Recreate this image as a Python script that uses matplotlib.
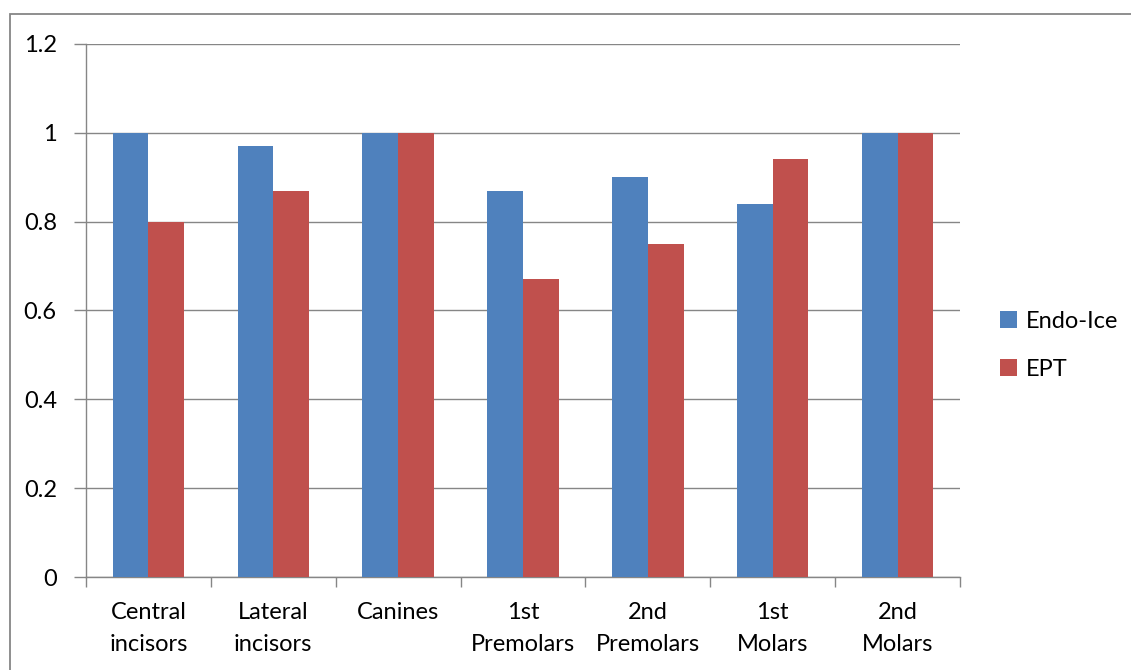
import matplotlib
matplotlib.use('Agg')
import matplotlib.pyplot as plt
from matplotlib.patches import Rectangle
import numpy as np

categories = ['Central\nincisors', 'Lateral\nincisors', 'Canines', '1st\nPremolars',
              '2nd\nPremolars', '1st\nMolars', '2nd\nMolars']
endo_ice = [1.00, 0.97, 1.00, 0.87, 0.90, 0.84, 1.00]
ept = [0.80, 0.87, 1.00, 0.67, 0.75, 0.94, 1.00]
yticks = [0, 0.2, 0.4, 0.6, 0.8, 1.0, 1.2]
ytick_labels = ['0', '0.2', '0.4', '0.6', '0.8', '1', '1.2']

plt.rcParams['font.family'] = ['Lato', 'DejaVu Sans']
grid_color = '#868686'
fs = 17

W, H = 1131, 670
fig = plt.figure(figsize=(W / 100, H / 100), dpi=100)
ax = fig.add_axes([86 / W, 1 - 577 / H, (960 - 86) / W, (577 - 44) / H])

# outer chart border, running past the right and bottom edges
fig.patches.append(Rectangle((10 / W, -0.1), 1.2, 1 - 14 / H + 0.1,
                             transform=fig.transFigure, fill=False,
                             edgecolor=grid_color, linewidth=1.3))

x = np.arange(len(categories))
width = 0.286
ax.bar(x - width / 2, endo_ice, width, color='#4F81BD', label='Endo-Ice', zorder=3)
ax.bar(x + width / 2, ept, width, color='#C0504D', label='EPT', zorder=3)

ax.set_xlim(-0.5, len(categories) - 0.5)
ax.set_ylim(0, 1.2)
ax.set_yticks(yticks)
ax.set_yticklabels(ytick_labels, fontsize=fs)
ax.yaxis.grid(True, color=grid_color, linewidth=1.0, zorder=0)

ax.set_xticks(np.arange(len(categories) + 1) - 0.5, minor=False)
ax.set_xticklabels([])
ax.set_xticks(x, minor=True)
ax.set_xticklabels(categories, minor=True, fontsize=fs, linespacing=1.65)
ax.tick_params(axis='x', which='major', length=7, color=grid_color, width=1.0)
ax.tick_params(axis='x', which='minor', length=0, pad=18)
ax.tick_params(axis='y', length=9, color=grid_color, width=1.0, pad=12)

for side in ['top', 'right']:
    ax.spines[side].set_visible(False)
for side in ['left', 'bottom']:
    ax.spines[side].set_color(grid_color)
    ax.spines[side].set_linewidth(1.0)

ax.legend(loc='center left', bbox_to_anchor=(1.035, 0.435), frameon=False,
          fontsize=fs, handlelength=0.7, handleheight=0.7,
          handletextpad=0.4, labelspacing=1.15, borderaxespad=0)

fig.savefig('out.png', dpi=100)
